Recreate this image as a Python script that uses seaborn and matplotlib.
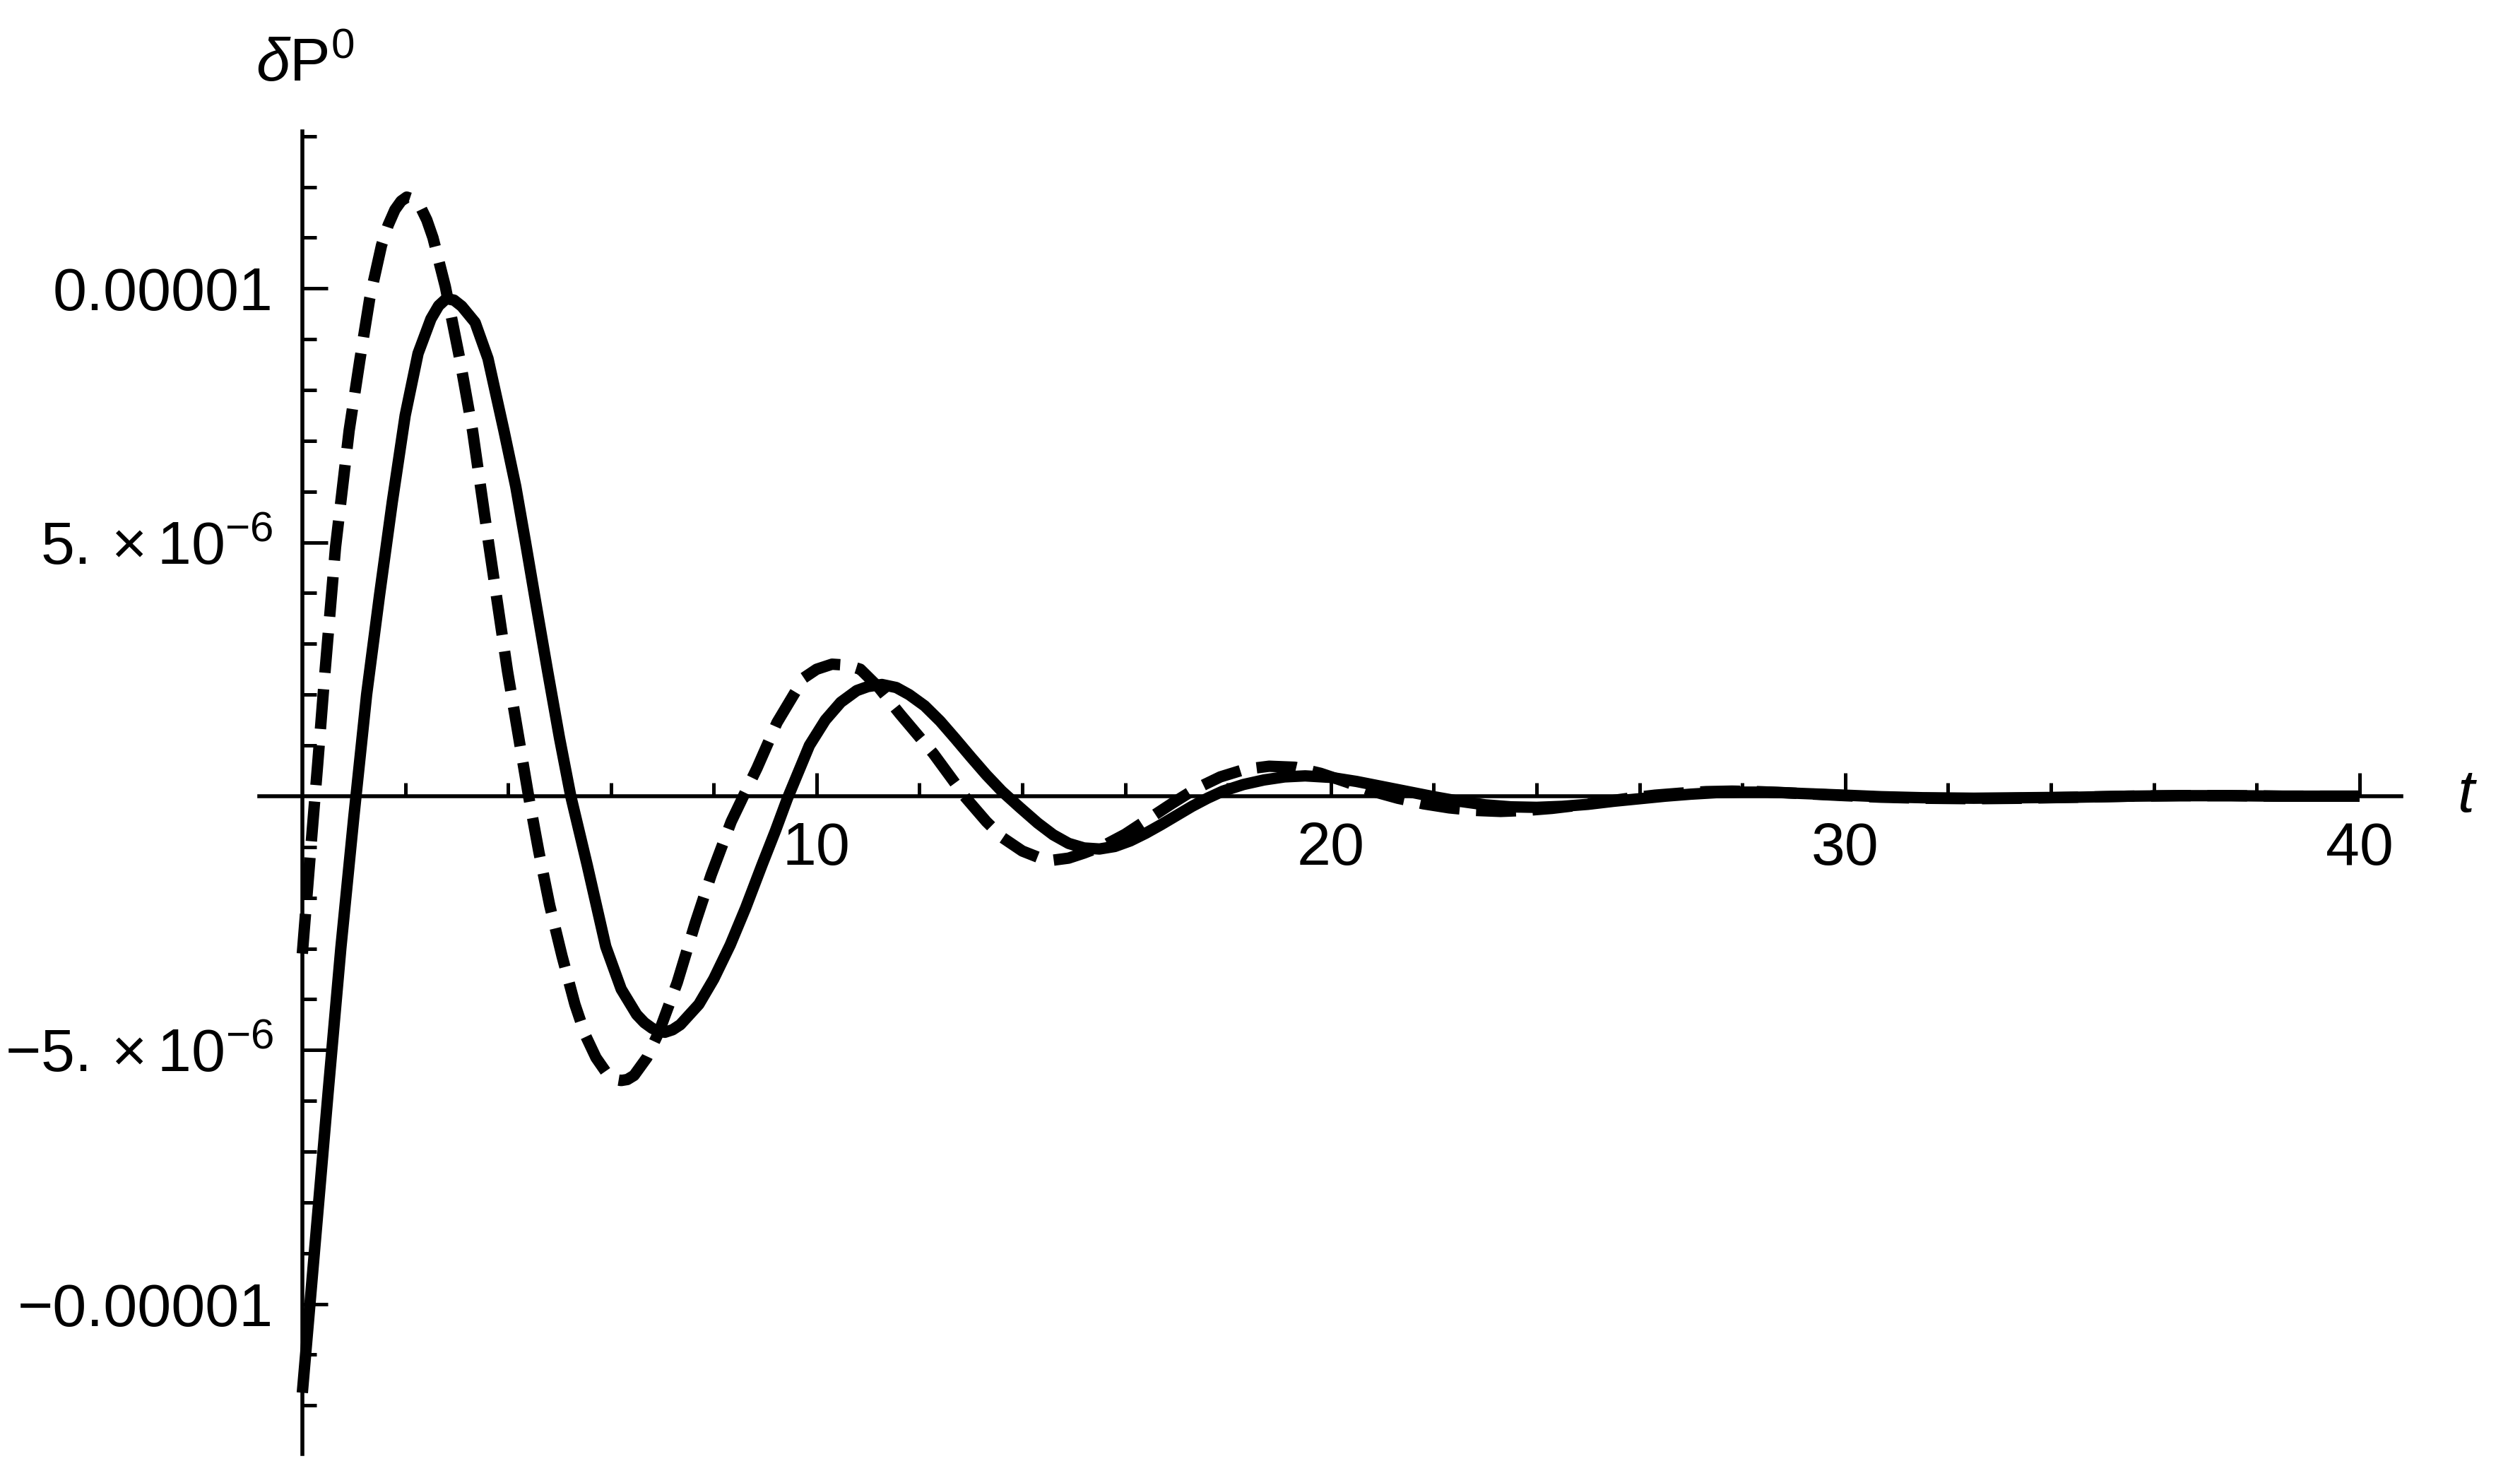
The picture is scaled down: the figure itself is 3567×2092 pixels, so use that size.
import numpy as np
import pandas as pd
import seaborn as sns
import matplotlib.pyplot as plt

# values, delta P^0 in units of 1e-6
t_solid = [0.0, 0.25, 0.5, 0.75, 1.0, 1.25, 1.5, 1.75, 2.0, 2.25, 2.5, 2.65,
           2.8, 2.95, 3.1, 3.36, 3.61, 3.92, 4.15, 4.34, 4.55, 4.77, 5.0,
           5.22, 5.54, 5.9, 6.2, 6.5, 6.65, 6.8, 6.93, 7.05, 7.2, 7.35, 7.71,
           8.0, 8.32, 8.62, 8.94, 9.2, 9.43, 9.86, 10.17, 10.47, 10.78, 11.0,
           11.27, 11.55, 11.8, 12.1, 12.4, 12.7, 13.0, 13.3, 13.6, 13.95,
           14.3, 14.6, 14.9, 15.2, 15.5, 15.8, 16.1, 16.4, 16.7, 17.0, 17.3,
           17.6, 17.9, 18.3, 18.7, 19.1, 19.5, 20.0, 20.5, 21.0, 21.5, 22.0,
           22.5, 23.0, 23.5, 24.0, 24.5, 25.0, 25.5, 26.0, 26.5, 27.0, 27.5,
           28.0, 28.5, 29.0, 29.5, 30.0, 30.7, 31.5, 32.5, 33.5, 34.5, 35.5,
           36.5, 37.5, 38.5, 40.0]
p_solid = [-11.75, -8.8, -5.85, -2.98, -0.42, 2.0, 3.95, 5.8, 7.5, 8.72, 9.4,
           9.66, 9.8, 9.77, 9.65, 9.33, 8.62, 7.2, 6.1, 5.0, 3.75, 2.46, 1.15,
           0.0, -1.36, -2.96, -3.8, -4.3, -4.46, -4.57, -4.63, -4.65, -4.6,
           -4.5, -4.1, -3.6, -2.93, -2.2, -1.35, -0.68, -0.05, 1.0, 1.5, 1.85,
           2.08, 2.16, 2.2, 2.14, 2.0, 1.78, 1.48, 1.13, 0.77, 0.42, 0.1,
           -0.22, -0.53, -0.76, -0.93, -1.02, -1.04, -0.99, -0.88, -0.73,
           -0.56, -0.38, -0.2, -0.04, 0.1, 0.23, 0.32, 0.38, 0.4, 0.37, 0.29,
           0.19, 0.09, -0.01, -0.1, -0.17, -0.21, -0.22, -0.2, -0.16, -0.1,
           -0.05, 0.0, 0.04, 0.07, 0.08, 0.08, 0.06, 0.04, 0.02, -0.01, -0.03,
           -0.04, -0.03, -0.02, 0.0, 0.01, 0.01, 0.0, 0.0]

t_dashed = [0.0, 0.15, 0.3, 0.42, 0.645, 0.91, 1.12, 1.31, 1.54, 1.67, 1.8,
            1.92, 2.03, 2.15, 2.3, 2.42, 2.54, 2.78, 3.06, 3.31, 3.62, 3.99,
            4.2, 4.4, 4.6, 4.81, 5.05, 5.3, 5.5, 5.71, 5.95, 6.08, 6.2, 6.32,
            6.45, 6.7, 6.94, 7.29, 7.64, 7.95, 8.34, 8.6, 8.84, 9.23, 9.75,
            10.0, 10.3, 10.6, 10.85, 11.2, 11.62, 12.27, 12.9, 13.3, 13.62,
            14.0, 14.3, 14.6, 14.9, 15.2, 15.59, 16.0, 16.45, 16.9, 17.36,
            17.85, 18.33, 18.8, 19.3, 19.8, 20.3, 20.8, 21.3, 21.8, 22.3,
            22.8, 23.3, 23.8, 24.3, 24.8, 25.3, 25.8, 26.3, 26.8, 27.3, 27.8,
            28.3, 28.8, 29.4, 30.0, 30.7, 31.5, 32.5, 33.5, 34.5, 35.5, 36.5,
            37.5, 38.5, 40.0]
p_dashed = [-3.1, -1.2, 0.65, 2.2, 4.9, 7.2, 8.6, 9.8, 10.85, 11.25, 11.55,
            11.72, 11.8, 11.76, 11.6, 11.35, 11.0, 10.04, 8.62, 7.2, 5.0, 2.46,
            1.2, 0.0, -1.1, -2.15, -3.15, -4.1, -4.7, -5.15, -5.5, -5.58,
            -5.6, -5.58, -5.5, -5.15, -4.63, -3.67, -2.5, -1.55, -0.5, 0.05,
            0.55, 1.45, 2.33, 2.5, 2.6, 2.58, 2.5, 2.15, 1.62, 0.84, -0.03,
            -0.5, -0.82, -1.08, -1.2, -1.26, -1.22, -1.12, -0.97, -0.75,
            -0.45, -0.15, 0.14, 0.38, 0.53, 0.59, 0.57, 0.45, 0.28, 0.1,
            -0.04, -0.15, -0.23, -0.28, -0.3, -0.28, -0.24, -0.18, -0.11,
            -0.04, 0.02, 0.06, 0.09, 0.1, 0.09, 0.07, 0.04, 0.01, -0.02,
            -0.04, -0.05, -0.04, -0.02, 0.0, 0.01, 0.01, 0.0, 0.0]

x_major = [10, 20, 30, 40]
x_major_labels = ["10", "20", "30", "40"]
x_minor = [2, 4, 6, 8, 12, 14, 16, 18, 22, 24, 26, 28, 32, 34, 36, 38]
y_major = [-1e-5, -5e-6, 5e-6, 1e-5]
y_major_labels = ["\u22120.00001", r"$-5.\times10^{-6}$",
                  r"$5.\times10^{-6}$", "0.00001"]
y_minor = [-12e-6, -11e-6, -9e-6, -8e-6, -7e-6, -6e-6, -4e-6, -3e-6, -2e-6,
           -1e-6, 1e-6, 2e-6, 3e-6, 4e-6, 6e-6, 7e-6, 8e-6, 9e-6, 11e-6,
           12e-6, 13e-6]

sns.set_style("white")
plt.rcParams["font.family"] = ["Liberation Sans", "DejaVu Sans"]
plt.rcParams["mathtext.fontset"] = "custom"
plt.rcParams["mathtext.rm"] = "Liberation Sans"
plt.rcParams["mathtext.it"] = "Liberation Sans:italic"
plt.rcParams["mathtext.bf"] = "Liberation Sans:bold"
plt.rcParams["text.color"] = "black"

solid = pd.DataFrame({"t": t_solid, "dP": np.array(p_solid) * 1e-6})
dashed = pd.DataFrame({"t": t_dashed, "dP": np.array(p_dashed) * 1e-6})

fig = plt.figure(figsize=(17.835, 10.46), dpi=200)
ax = fig.add_axes([0.10283, 0.01611, 0.8502, 0.8952])

sns.lineplot(data=solid, x="t", y="dP", ax=ax, color="black", linewidth=5.8,
             solid_capstyle="butt", solid_joinstyle="round",
             estimator=None, sort=False)
sns.lineplot(data=dashed, x="t", y="dP", ax=ax, color="black", linewidth=5.8,
             linestyle=(0, (3.5, 1.45)), dash_capstyle="butt",
             dash_joinstyle="round", estimator=None, sort=False)

ax.set_xlim(-0.84, 40.82)
ax.set_ylim(-12.96e-6, 13.1e-6)

# Mathematica style axes crossing at the origin
for side in ["top", "right"]:
    ax.spines[side].set_visible(False)
for side in ["left", "bottom"]:
    ax.spines[side].set_position(("data", 0))
    ax.spines[side].set_linewidth(2.0)
    ax.spines[side].set_color("black")

ax.set_xticks(x_major, labels=x_major_labels)
ax.set_xticks(x_minor, minor=True)
ax.set_yticks(y_major, labels=y_major_labels)
ax.set_yticks(y_minor, minor=True)
ax.tick_params(axis="x", which="both", bottom=True, direction="in",
               width=1.8, color="black", labelcolor="black")
ax.tick_params(axis="y", which="both", left=True, direction="in",
               width=1.8, color="black", labelcolor="black")
ax.tick_params(axis="x", which="major", length=11.9, pad=12.6, labelsize=31)
ax.tick_params(axis="x", which="minor", length=6.8)
ax.tick_params(axis="y", which="major", length=13, pad=14.8, labelsize=31)
ax.tick_params(axis="y", which="minor", length=7.2)

ax.set_xlabel("")
ax.set_ylabel("")
ax.text(42.06, 0, "t", style="italic", fontsize=31, ha="center", va="center")
ax.text(-0.9, 14.08e-6, r"$\delta\mathrm{P}^{0}$", fontsize=31,
        ha="left", va="baseline", clip_on=False)

fig.savefig("out.png", dpi=200, facecolor="white")
